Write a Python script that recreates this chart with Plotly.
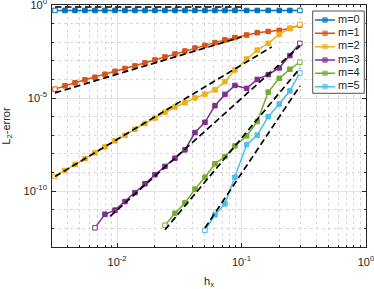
import math
import plotly.graph_objects as go

# grid spacings h_x
h = [0.00317, 0.00381, 0.00459, 0.00552, 0.00664, 0.00799, 0.00962, 0.01157,
     0.01392, 0.01675, 0.02015, 0.02425, 0.02917, 0.0351, 0.04223, 0.05082,
     0.06115, 0.07357, 0.08852, 0.1099, 0.1337, 0.1638, 0.2008, 0.2446, 0.2944]

# L2 errors per polynomial degree m (series start index into h given by start_idx)
err_m0 = [0.51] * 25
err_m1 = [3.02e-5, 4.57e-5, 6.61e-5, 9.55e-5, 1.32e-4, 1.91e-4, 2.75e-4, 3.89e-4,
          5.37e-4, 7.76e-4, 1.12e-3, 1.62e-3, 2.34e-3, 3.39e-3, 4.90e-3, 6.76e-3,
          9.55e-3, 1.32e-2, 1.78e-2, 2.45e-2, 3.24e-2, 3.80e-2, 4.37e-2, 5.50e-2, 8.32e-2]
err_m2 = [6.17e-10, 1.29e-9, 2.69e-9, 5.50e-9, 1.15e-8, 2.40e-8, 5.01e-8, 1.00e-7,
          2.14e-7, 4.27e-7, 8.51e-7, 1.74e-6, 3.31e-6, 5.62e-6, 1.02e-5, 1.62e-5,
          2.75e-5, 7.59e-5, 3.24e-4, 1.26e-3, 3.80e-3, 8.71e-3, 2.63e-2, 5.50e-2, 9.12e-2]
err_m3 = [1.07e-12, 5.75e-12, 9.55e-12, 2.75e-11, 8.32e-11, 2.51e-10, 7.59e-10,
          2.14e-9, 5.89e-9, 1.66e-8, 1.41e-7, 5.01e-7, 3.89e-6, 1.58e-5, 4.79e-5,
          3.31e-5, 1.00e-4, 1.82e-4, 4.17e-4, 1.91e-3, 8.71e-3]
err_m4 = [1.48e-12, 6.46e-12, 2.34e-11, 1.29e-10, 5.62e-10, 2.95e-9, 7.24e-9,
          2.69e-8, 9.33e-8, 5.50e-7, 2.09e-5, 1.15e-4, 3.55e-4, 8.51e-4]
err_m5 = [7.94e-13, 5.37e-12, 2.09e-11, 5.62e-10, 3.16e-8, 1.02e-7, 1.00e-6,
          4.79e-6, 2.45e-5, 2.24e-4]

labels = ["m=0", "m=1", "m=2", "m=3", "m=4", "m=5"]
start_idx = [0, 0, 0, 4, 11, 15]
errors = [err_m0, err_m1, err_m2, err_m3, err_m4, err_m5]

# reference slopes  C * h^rate
ref_rate = [0, 2, 4, 6, 8, 10]
ref_const = [0.78, 1.9, 6.0, 9.6, 7.0, 9.1]
ref_h_start = [0.00317, 0.00317, 0.00317, 0.0088, 0.02425, 0.05082]
ref_h_end = [0.1, 0.1, 0.175, 0.2944, 0.2944, 0.2944]

colors = ["#0072BD", "#D95319", "#EDB120", "#7E2F8E", "#77AC30", "#4DBEEE"]

fig = go.Figure()
for lab, s, e, c in zip(labels, start_idx, errors, colors):
    xs = h[s:s + len(e)]
    fill = [c] * len(e)
    fill[0] = "white"
    fill[-1] = "white"
    fig.add_trace(go.Scatter(
        x=xs, y=e, mode="lines+markers", name=lab, showlegend=False,
        line=dict(color=c, width=1.5),
        marker=dict(symbol="square", size=4.5, color=fill,
                    line=dict(color=c, width=1)),
    ))

for p, C, h0, h1 in zip(ref_rate, ref_const, ref_h_start, ref_h_end):
    fig.add_trace(go.Scatter(
        x=[h0, h1], y=[C * h0 ** p, C * h1 ** p], mode="lines",
        line=dict(color="black", width=1.7, dash="6.5px,3.5px"),
        showlegend=False, hoverinfo="skip",
    ))

axc = "#262626"
font = dict(family="Liberation Sans, Arial, sans-serif", size=11, color=axc)

# ---- compact legend box (MATLAB style) drawn on a helper axis pair ----
leg_w, leg_h = 51.6, 82.3          # legend box size in px
row_gap = 13.33
fig.add_trace(go.Scatter(
    x=[0, leg_w, leg_w, 0, 0], y=[0, 0, leg_h, leg_h, 0], xaxis="x2", yaxis="y2",
    mode="lines", fill="toself", fillcolor="white",
    line=dict(color=axc, width=0.8), showlegend=False, hoverinfo="skip",
))
for k, (lab, c) in enumerate(zip(labels, colors)):
    yk = 9 + row_gap * k
    fig.add_trace(go.Scatter(
        x=[2.3, 12.3, 22.3], y=[yk, yk, yk], xaxis="x2", yaxis="y2",
        mode="lines+markers", showlegend=False, hoverinfo="skip",
        line=dict(color=c, width=1.5),
        marker=dict(symbol="square", size=[0, 4.5, 0], color=c,
                    line=dict(color=c, width=[0, 1, 0])),
    ))
    fig.add_trace(go.Scatter(
        x=[25.3], y=[yk], xaxis="x2", yaxis="y2", mode="text",
        text=[lab], textposition="middle right", textfont=font,
        showlegend=False, hoverinfo="skip", cliponaxis=False,
    ))

x_minor = [d * 10 ** k for k in (-3, -2, -1) for d in range(2, 10) if d * 10 ** k > 0.003]
y_minor = [10.0 ** (-k) for k in range(1, 13) if k not in (5, 10)]

plot_l, plot_r, plot_t, plot_b = 52, 366, 5, 247
pw, ph = plot_r - plot_l, plot_b - plot_t
leg_x0, leg_y0 = 312.7, 11.0
pad = 1.0

xaxis = dict(
    type="log", range=[math.log10(0.003), 0], automargin=False,
    tickvals=[0.01, 0.1, 1],
    ticktext=["10<sup>-2</sup>", "10<sup>-1</sup>", "10<sup>0</sup>"],
    ticks="inside", ticklen=4, tickcolor=axc, tickwidth=0.6,
    ticklabeloverflow="allow", ticklabelstandoff=5,
    showline=True, linecolor=axc, linewidth=0.7, mirror="ticks",
    showgrid=True, gridcolor="#e3e3e3", gridwidth=0.7,
    minor=dict(tickvals=x_minor, ticks="inside", ticklen=2, tickcolor=axc,
               showgrid=True, gridcolor="#d9d9d9", griddash="dot", gridwidth=0.7),
    tickfont=font, zeroline=False,
    title=dict(text="h<sub>x</sub>", font=font, standoff=10),
)
yaxis = dict(
    type="log", range=[-13, 0], automargin=False,
    tickvals=[1e-10, 1e-5, 1],
    ticktext=["10<sup>-10</sup>", "10<sup>-5</sup>", "10<sup>0</sup>"],
    ticks="inside", ticklen=4, tickcolor=axc, tickwidth=0.6,
    ticklabeloverflow="allow", ticklabelstandoff=2,
    showline=True, linecolor=axc, linewidth=0.7, mirror="ticks",
    showgrid=True, gridcolor="#e3e3e3", gridwidth=0.7,
    minor=dict(tickvals=y_minor, ticks="inside", ticklen=2, tickcolor=axc,
               showgrid=True, gridcolor="#d9d9d9", griddash="dot", gridwidth=0.7),
    tickfont=font, zeroline=False,
    title=dict(text="L<sub>2</sub>-error", font=font, standoff=13),
)

fig.update_layout(
    width=374, height=289,
    margin=dict(l=plot_l, r=374 - plot_r, t=plot_t, b=289 - plot_b),
    paper_bgcolor="white", plot_bgcolor="white",
    font=font,
    showlegend=False,
    xaxis=xaxis, yaxis=yaxis,
    xaxis2=dict(domain=[(leg_x0 - pad - plot_l) / pw, (leg_x0 + leg_w + pad - plot_l) / pw],
                range=[-pad, leg_w + pad], anchor="y2", automargin=False,
                showgrid=False, zeroline=False, showticklabels=False,
                ticks="", showline=False, fixedrange=True),
    yaxis2=dict(domain=[1 - (leg_y0 + leg_h + pad - plot_t) / ph,
                        1 - (leg_y0 - pad - plot_t) / ph],
                range=[leg_h + pad, -pad], anchor="x2", automargin=False,
                showgrid=False, zeroline=False, showticklabels=False,
                ticks="", showline=False, fixedrange=True),
)

fig.write_html("out.html", config={"displayModeBar": False},
               post_script="document.body.style.margin='0px';")
